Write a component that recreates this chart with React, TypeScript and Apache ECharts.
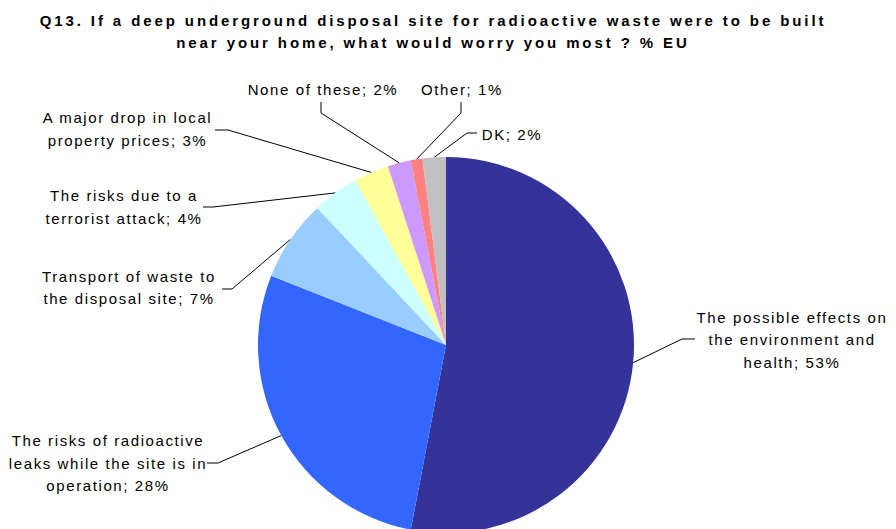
import React, { useEffect, useRef } from "react";
import * as echarts from "echarts";

const titleLines = [
  "Q13. If a deep underground disposal site for radioactive waste were to be built",
  "near your home, what would worry you most ? % EU",
];

const categories = [
  "The possible effects on\nthe environment and\nhealth",
  "The risks of radioactive\nleaks while the site is in\noperation",
  "Transport of waste to\nthe disposal site",
  "The risks due to a\nterrorist attack",
  "A major drop in local\nproperty prices",
  "None of these",
  "Other",
  "DK",
];

const values = [53, 28, 7, 4, 3, 2, 1, 2];

const colors = [
  "#333399",
  "#3366FF",
  "#99CCFF",
  "#CCFFFF",
  "#FFFF99",
  "#CC99FF",
  "#FF8080",
  "#C0C0C0",
];

// layout (positions of label blocks and label line elbows)
const CENTER = [446, 345];
const RADIUS = 188;
const LABEL_POS = [
  [792, 339.5],
  [108, 463],
  [129, 287.5],
  [124, 207],
  [127.5, 129],
  [323, 89],
  [462, 89],
  [512, 134],
];
const LABEL_ELBOWS = [
  [[682, 339], [695, 339]],
  [[218, 463], [207, 463]],
  [[232, 289], [222, 289]],
  [[213, 207], [203, 207]],
  [[228, 130], [215, 130]],
  [[321, 113], [321, 102]],
  [[461, 113], [461, 102]],
  [[467, 133], [477, 133]],
];

const FONT = '"Liberation Sans", Arial, sans-serif';

export default function App() {
  const ref = useRef<HTMLDivElement>(null);

  useEffect(() => {
    if (!ref.current) return;
    const chart = echarts.init(ref.current, null, { renderer: "svg" });
    const total = values.reduce((a, b) => a + b, 0);
    const mids: number[] = [];
    let acc = 0;
    values.forEach((v) => {
      mids.push(((acc + v / 2) / total) * 2 * Math.PI);
      acc += v;
    });

    chart.setOption({
      animation: false,
      title: {
        text: titleLines.join("\n"),
        left: 433,
        top: 9,
        textAlign: "center",
        padding: 0,
        textStyle: {
          fontFamily: FONT,
          fontSize: 15,
          fontWeight: "bold",
          color: "#000",
          lineHeight: 22,
        },
      },
      series: [
        {
          type: "pie",
          center: CENTER,
          radius: RADIUS,
          startAngle: 90,
          clockwise: true,
          avoidLabelOverlap: false,
          itemStyle: { borderWidth: 0 },
          emphasis: { disabled: true },
          data: categories.map((c, i) => ({
            name: c,
            value: values[i],
            itemStyle: { color: colors[i] },
          })),
          label: {
            show: true,
            position: "outside",
            formatter: (p: any) => `${p.name}; ${p.value}%`,
            fontFamily: FONT,
            fontSize: 15,
            color: "#000",
            lineHeight: 22.5,
            align: "center",
          },
          labelLine: {
            show: true,
            length: 5,
            length2: 5,
            smooth: false,
            lineStyle: { color: "#000", width: 1 },
          },
          labelLayout: (params: any) => {
            const i = params.dataIndex;
            const a = mids[i];
            const edge = [
              CENTER[0] + RADIUS * Math.sin(a),
              CENTER[1] - RADIUS * Math.cos(a),
            ];
            return {
              x: LABEL_POS[i][0],
              y: LABEL_POS[i][1],
              align: "center",
              verticalAlign: "middle",
              labelLinePoints: [edge, ...LABEL_ELBOWS[i]],
            };
          },
        },
      ],
    });

    return () => chart.dispose();
  }, []);

  return (
    <>
      <style>{`
        #chart text { letter-spacing: 1.6px; }
        #chart text[style*="bold"] { letter-spacing: 2.9px; }
      `}</style>
      <div
        id="chart"
        ref={ref}
        style={{
          position: "fixed",
          left: 0,
          top: 0,
          width: 896,
          height: 529,
          background: "#fff",
        }}
      />
    </>
  );
}
